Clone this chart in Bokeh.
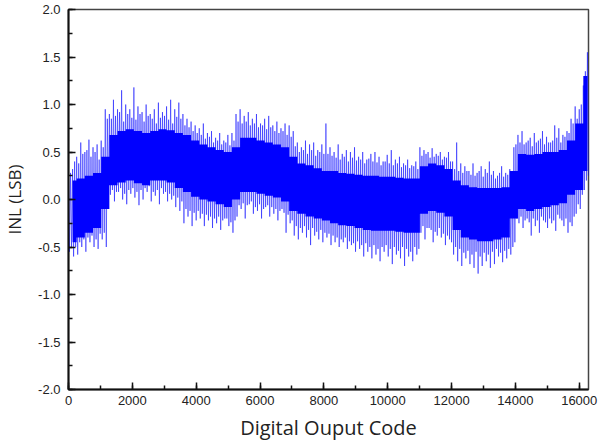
import numpy as np
from bokeh.plotting import figure
from bokeh.models import Range1d, PrintfTickFormatter, FixedTicker, ColumnDataSource
from bokeh.embed import file_html
from bokeh.resources import INLINE

# ---- data (INL in LSB) ----
# largest excursions, one per 128-code bin (codes 0, 128, ..., 16256)
spike_hi = [0.30, 0.32, 0.45, 0.60, 0.50, 0.63, 0.55, 0.58, 0.62, 0.95,
            0.90, 1.05, 0.95, 1.15, 1.00, 0.95, 1.18, 0.98,
            0.92, 1.00, 0.90, 0.95, 1.02, 0.92, 0.98, 1.05, 0.95, 1.02,
            0.90, 0.85, 0.82, 0.78,
            0.75, 0.80, 0.70, 0.72, 0.65, 0.70, 0.62, 0.68, 0.70,
            0.90,
            0.95, 0.88, 0.92, 0.85, 0.90, 0.80, 0.85, 0.88, 0.78, 0.82, 0.75, 0.80,
            0.78, 0.72, 0.60, 0.55, 0.62, 0.58, 0.60, 0.52, 0.58,
            0.80, 0.55, 0.50, 0.58, 0.48, 0.52, 0.50, 0.55, 0.45, 0.50, 0.42, 0.48,
            0.50, 0.45, 0.40, 0.47, 0.52, 0.42, 0.45, 0.38, 0.42, 0.36, 0.40,
            0.55, 0.52, 0.50, 0.54, 0.48, 0.50, 0.45, 0.50,
            0.40, 0.60, 0.38, 0.35, 0.30, 0.38, 0.28, 0.35, 0.32, 0.40, 0.30, 0.25,
            0.35, 0.28, 0.32,
            0.55,
            0.68, 0.72, 0.60, 0.65, 0.70, 0.62, 0.72, 0.66, 0.60, 0.78, 0.75, 0.68, 0.72,
            0.85, 0.98, 0.95, 1.20, 1.55]
spike_lo = [-0.55, -0.60, -0.58, -0.50, -0.55, -0.45, -0.50, -0.52, -0.42, -0.50,
            0.05, -0.02, 0.08, 0.00, -0.05, 0.06, 0.02, -0.06,
            0.00, 0.08, -0.02, 0.04, -0.05, 0.06, -0.02, 0.00, -0.08, -0.12,
            -0.25, -0.18, -0.28, -0.22,
            -0.20, -0.28, -0.22, -0.30, -0.25, -0.32, -0.20, -0.28, -0.35,
            -0.18,
            -0.10, -0.20, -0.05, -0.15, -0.12, -0.20, -0.08, -0.18, -0.15, -0.22, -0.10, -0.35,
            -0.25, -0.38, -0.42, -0.35, -0.40, -0.48, -0.38, -0.42, -0.45,
            -0.40, -0.48, -0.45, -0.50, -0.45, -0.52, -0.48, -0.55, -0.52, -0.60, -0.55, -0.62,
            -0.58, -0.65, -0.55, -0.60, -0.68, -0.58, -0.62, -0.70, -0.60, -0.65, -0.58,
            -0.35, -0.42, -0.30, -0.45, -0.38, -0.40, -0.48, -0.42,
            -0.58, -0.65, -0.70, -0.62, -0.68, -0.72, -0.78, -0.70, -0.65, -0.72, -0.68, -0.60,
            -0.66, -0.62, -0.58,
            -0.45,
            -0.25, -0.30, -0.20, -0.38, -0.28, -0.35, -0.22, -0.30, -0.25, -0.33, -0.20, -0.28, -0.35,
            -0.28, -0.15, -0.10, 0.10, 0.25]

# smaller excursions in the second half of each 128-code bin
minor_hi = [0.28, 0.40, 0.38, 0.48, 0.52, 0.45, 0.50, 0.42, 0.55, 0.85,
            0.85, 0.88, 0.92, 0.82, 0.90, 0.86, 0.84, 0.90,
            0.82, 0.88, 0.85, 0.80, 0.86, 0.88, 0.84, 0.80, 0.87, 0.85,
            0.78, 0.76, 0.72, 0.70,
            0.68, 0.64, 0.66, 0.60, 0.62, 0.58, 0.60, 0.57, 0.62,
            0.82,
            0.80, 0.82, 0.78, 0.80, 0.76, 0.78, 0.74, 0.76, 0.72, 0.70, 0.72, 0.68,
            0.66, 0.56, 0.50, 0.52, 0.48, 0.52, 0.46, 0.50, 0.48,
            0.48, 0.46, 0.44, 0.42, 0.45, 0.40, 0.44, 0.41, 0.42, 0.38, 0.43, 0.40,
            0.39, 0.36, 0.40, 0.38, 0.36, 0.38, 0.34, 0.36, 0.33, 0.35, 0.32,
            0.46, 0.48, 0.44, 0.45, 0.46, 0.42, 0.44, 0.40,
            0.32, 0.30, 0.28, 0.30, 0.26, 0.25, 0.30, 0.24, 0.28, 0.26, 0.22, 0.28,
            0.24, 0.26, 0.30,
            0.58,
            0.60, 0.58, 0.62, 0.56, 0.60, 0.64, 0.58, 0.60, 0.62, 0.65, 0.60, 0.66, 0.70,
            0.80, 0.85, 1.00, 1.35, 1.50]
minor_lo = [-0.50, -0.50, -0.45, -0.42, -0.40, -0.38, -0.42, -0.36, -0.35, 0.02,
            0.10, 0.08, 0.12, 0.06, 0.10, 0.12, 0.08, 0.10,
            0.12, 0.14, 0.08, 0.10, 0.12, 0.08, 0.06, 0.04, 0.02, -0.02,
            -0.10, -0.12, -0.14, -0.12,
            -0.15, -0.16, -0.18, -0.20, -0.18, -0.22, -0.20, -0.24, -0.22,
            -0.06,
            -0.04, -0.06, -0.02, -0.08, -0.05, -0.10, -0.06, -0.08, -0.10, -0.12, -0.14, -0.16,
            -0.22, -0.28, -0.30, -0.28, -0.32, -0.30, -0.34, -0.32, -0.35,
            -0.36, -0.38, -0.40, -0.42, -0.40, -0.44, -0.46, -0.44, -0.48, -0.46, -0.50, -0.48,
            -0.52, -0.50, -0.48, -0.52, -0.50, -0.54, -0.50, -0.52, -0.55, -0.50, -0.52,
            -0.28, -0.30, -0.32, -0.34, -0.30, -0.36, -0.38, -0.45,
            -0.50, -0.52, -0.56, -0.54, -0.58, -0.55, -0.60, -0.56, -0.58, -0.55, -0.52, -0.56,
            -0.54, -0.52, -0.50,
            -0.20,
            -0.18, -0.22, -0.24, -0.20, -0.22, -0.18, -0.24, -0.20, -0.22, -0.16, -0.22, -0.20, -0.24,
            -0.18, -0.05, 0.05, 0.20, 0.35]

# dense core band, one bin per 256 codes
core_hi = [0.20, 0.22, 0.25, 0.28, 0.45,
           0.68, 0.72, 0.74, 0.72, 0.70, 0.72, 0.74, 0.73, 0.70, 0.68,
           0.62, 0.58, 0.55, 0.52, 0.50, 0.55,
           0.65, 0.65, 0.62, 0.60, 0.58, 0.55,
           0.45, 0.38, 0.36, 0.33, 0.30, 0.30, 0.28, 0.27, 0.26, 0.25, 0.25, 0.24,
           0.24, 0.23, 0.22, 0.22,
           0.35, 0.38, 0.36, 0.32,
           0.20, 0.15, 0.13, 0.12, 0.12, 0.12, 0.13,
           0.30,
           0.48, 0.47, 0.48, 0.50, 0.50, 0.52,
           0.62, 0.80, 1.30]
core_lo = [-0.45, -0.40, -0.35, -0.30, -0.10,
           0.15, 0.18, 0.20, 0.17, 0.15, 0.20, 0.20, 0.18, 0.12, 0.08,
           0.03, 0.00, -0.02, -0.05, -0.08, 0.00,
           0.08, 0.08, 0.06, 0.04, 0.02, -0.02,
           -0.12, -0.15, -0.18, -0.20, -0.22, -0.25, -0.27, -0.28, -0.30, -0.32, -0.33, -0.33,
           -0.33, -0.34, -0.35, -0.35,
           -0.15, -0.12, -0.14, -0.18,
           -0.32, -0.40, -0.42, -0.44, -0.44, -0.42, -0.40,
           -0.20,
           -0.10, -0.12, -0.10, -0.08, -0.06, -0.04,
           0.05, 0.10, 0.30]

x_ticks = [0, 2000, 4000, 6000, 8000, 10000, 12000, 14000, 16000]
y_ticks = [-2.0, -1.5, -1.0, -0.5, 0.0, 0.5, 1.0, 1.5, 2.0]

# positions of the bins on the code axis
bin_codes = [128 * i for i in range(len(spike_hi))]
core_codes = [256 * j + 128 for j in range(len(core_hi))]

# the trace swings between the excursions read for each bin
trace_x, trace_y = [], []
for c, h1, l1, h2, l2 in zip(bin_codes, spike_hi, spike_lo, minor_hi, minor_lo):
    trace_x += [c, c + 32, c + 64, c + 96]
    trace_y += [h1, l1, h2, l2]

# ---- figure ----
p = figure(width=607, height=444, output_backend="svg", toolbar_location=None,
           x_range=Range1d(0, 16290), y_range=Range1d(-2, 2),
           min_border_left=62, min_border_right=19, min_border_top=9, min_border_bottom=55)
p.background_fill_color = "white"
p.border_fill_color = "white"
p.grid.visible = False
p.outline_line_color = "#444444"
p.outline_line_width = 1.5

core_src = ColumnDataSource(dict(x=core_codes, y1=core_lo, y2=core_hi))
p.varea_step(x="x", y1="y1", y2="y2", step_mode="center", source=core_src,
             fill_color="#0000ff")

p.line(trace_x, trace_y, line_color="#0000ff", line_alpha=0.5, line_width=1)

for ax in (p.xaxis[0], p.yaxis[0]):
    ax.axis_line_color = "#111111"
    ax.axis_line_width = 2
    ax.major_tick_line_color = "#111111"
    ax.minor_tick_line_color = "#111111"
    ax.major_tick_line_width = 1.5
    ax.minor_tick_line_width = 1.5
    ax.major_tick_in = 7
    ax.major_tick_out = 0
    ax.minor_tick_in = 4
    ax.minor_tick_out = 0
    ax.major_label_text_font = "Liberation Sans"
    ax.major_label_text_font_size = "13px"
    ax.major_label_text_color = "#222222"
    ax.axis_label_text_font = "Open Sans"
    ax.axis_label_text_font_style = "normal"
    ax.axis_label_text_color = "#222222"

p.xaxis.axis_label_text_font_size = "20px"
p.yaxis.axis_label_text_font_size = "17px"
p.xaxis.ticker = FixedTicker(ticks=x_ticks, minor_ticks=[1000 * k for k in range(17)])
p.yaxis.ticker = FixedTicker(ticks=y_ticks, minor_ticks=[-2 + 0.25 * k for k in range(17)])
p.yaxis.formatter = PrintfTickFormatter(format="%.1f")
p.xaxis.major_label_standoff = 6
p.yaxis.major_label_standoff = 8
p.xaxis.axis_label = "Digital Ouput Code"
p.yaxis.axis_label = "INL (LSB)"
p.xaxis.axis_label_standoff = 6
p.yaxis.axis_label_standoff = 9

open("out.html", "w").write(file_html(p, INLINE))
